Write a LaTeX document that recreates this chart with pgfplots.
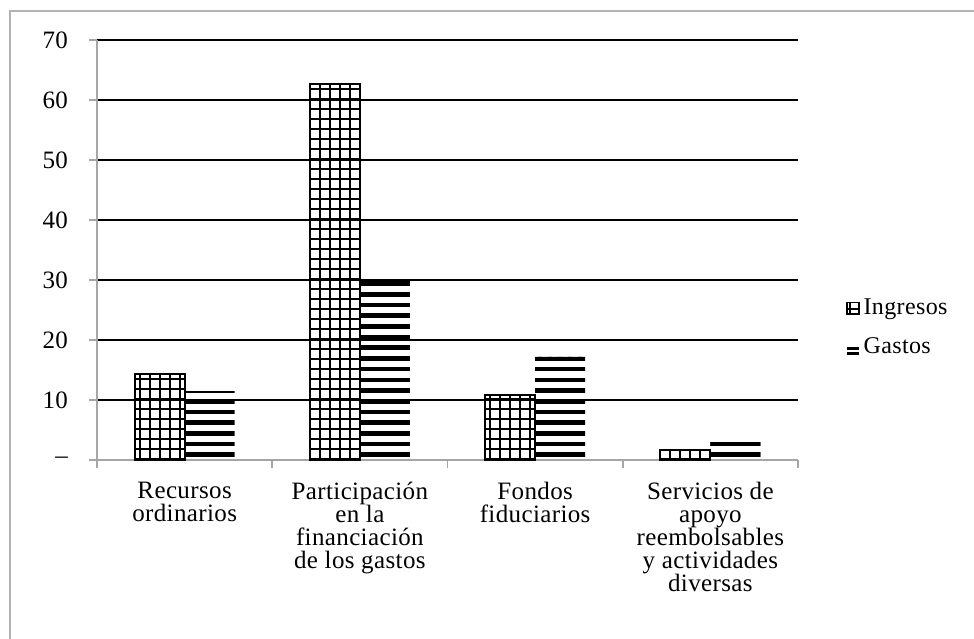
\documentclass[border=0pt]{standalone}
\usepackage{fontspec}
\setmainfont[LetterSpace=1.5]{Liberation Serif}
\usepackage{pgfplots}
\pgfplotsset{compat=1.18}
\usetikzlibrary{patterns}
\pgfdeclarepatternformonly{ingrid}{\pgfpoint{-1bp}{-1bp}}{\pgfpoint{6bp}{6bp}}{\pgfpoint{5bp}{5bp}}{%
  \pgfsetlinewidth{1.3bp}%
  \pgfpathmoveto{\pgfpoint{0bp}{-1bp}}\pgfpathlineto{\pgfpoint{0bp}{6bp}}%
  \pgfpathmoveto{\pgfpoint{-1bp}{0bp}}\pgfpathlineto{\pgfpoint{6bp}{0bp}}%
  \pgfusepath{stroke}}
\pgfdeclarepatternformonly{hstripes}{\pgfpoint{-1bp}{-1bp}}{\pgfpoint{6bp}{6.35bp}}{\pgfpoint{5bp}{5.35bp}}{%
  \pgfpathrectangle{\pgfpoint{-1bp}{0bp}}{\pgfpoint{7bp}{2.3bp}}%
  \pgfusepath{fill}}

\pgfplotstableread{
x ing gas
0 14.3 11.5
1 62.7 30.3
2 10.9 17.2
3 1.7 3.6
}\datatable

\begin{document}
\begin{tikzpicture}[font=\fontsize{12.5bp}{11.5bp}\selectfont]
\begin{axis}[
  name=ax,
  scale only axis,
  width=350.5bp, height=210bp,
  xmin=-0.5, xmax=3.5, ymin=0, ymax=70,
  ybar=0pt, bar width=25bp,
  axis lines*=left,
  axis line style={gray!70, line width=0.8bp},
  tick align=outside,
  ytick={10,20,...,70},
  ymajorgrids,
  grid style={black, line width=0.8bp},
  extra y ticks={0},
  extra y tick labels={--\hspace{9.5bp}},
  extra y tick style={grid=none},
  major tick length=4bp,
  tick style={gray!70, line width=0.8bp},
  yticklabel style={xshift=-7bp},
  xtick={-0.5,0.5,1.5,2.5,3.5},
  x tick label as interval,
  xticklabels={{Recursos\\ordinarios},{Participación\\en la\\financiación\\de los gastos},{Fondos\\fiduciarios},{Servicios de\\apoyo\\reembolsables\\y actividades\\diversas}},
  x tick label style={align=center, anchor=north, yshift=-3.5bp},
  /pgf/number format/assume math mode=true,
  legend style={at={(axis description cs:1.06,0.3145)}, anchor=west, draw=none, fill=none,
    row sep=6bp, font=\fontsize{12bp}{12bp}\selectfont},
  legend cell align=left,
]
\addplot[draw=black, line width=0.9bp, pattern=ingrid,
  legend image code/.code={\draw[pattern=ingrid, draw=black, line width=0.6bp] (0bp,-2.8bp) rectangle (6bp,2.8bp);}]
  table[x=x, y=ing] {\datatable};
\addlegendentry{Ingresos}
\addplot[draw=none, pattern=hstripes,
  legend image code/.code={\fill[black] (0bp,-4bp) rectangle (6bp,-2.6bp); \fill[black] (0bp,-1.2bp) rectangle (6bp,0.2bp);}]
  table[x=x, y=gas] {\datatable};
\addlegendentry{Gastos}
\end{axis}
\draw[gray!60, line width=1bp] ([shift={(-43.5bp,-89.5bp)}]ax.south west) -- ([shift={(-43.5bp,224.5bp)}]ax.south west) -- ([shift={(438.5bp,224.5bp)}]ax.south west);
\pgfresetboundingbox
\path[use as bounding box] ([shift={(-48.5bp,-89.5bp)}]ax.south west) rectangle ([shift={(438.5bp,230bp)}]ax.south west);
\end{tikzpicture}
\end{document}
